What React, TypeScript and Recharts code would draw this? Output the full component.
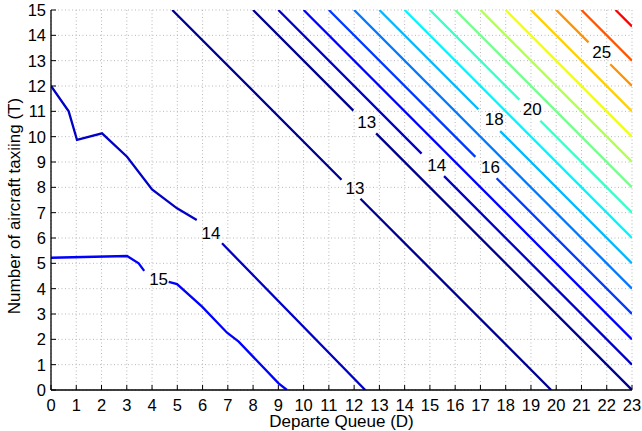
import React from "react";
import { ComposedChart, Line, XAxis, YAxis, CartesianGrid, ReferenceDot } from "recharts";

type Pt = { x: number; y: number | null };

const xTicks = [0, 1, 2, 3, 4, 5, 6, 7, 8, 9, 10, 11, 12, 13, 14, 15, 16, 17, 18, 19, 20, 21, 22, 23];
const yTicks = [0, 1, 2, 3, 4, 5, 6, 7, 8, 9, 10, 11, 12, 13, 14, 15];

// contour lines, a null y leaves the gap where the inline label sits
const curve14Left: Pt[] = [
  { x: 0, y: 12 }, { x: 0.7, y: 11 }, { x: 1.03, y: 9.87 }, { x: 2.02, y: 10.13 },
  { x: 3.01, y: 9.21 }, { x: 4, y: 7.92 }, { x: 4.99, y: 7.17 }, { x: 5.77, y: 6.71 },
  { x: 6.27, y: null }, { x: 6.77, y: 5.79 }, { x: 12.44, y: 0 },
];
const curve15Left: Pt[] = [
  { x: 0, y: 5.22 }, { x: 3.01, y: 5.29 }, { x: 3.47, y: 5.0 }, { x: 3.69, y: 4.7 },
  { x: 4.2, y: null }, { x: 4.66, y: 4.27 }, { x: 4.99, y: 4.18 }, { x: 5.98, y: 3.29 },
  { x: 6.97, y: 2.26 }, { x: 7.43, y: 1.91 }, { x: 9.01, y: 0.26 }, { x: 9.34, y: 0 },
];
const line13a: Pt[] = [{ x: 4.8, y: 15 }, { x: 11.5, y: 8.3 }, { x: 11.9, y: null }, { x: 12.25, y: 7.55 }, { x: 19.8, y: 0 }];
const line13b: Pt[] = [{ x: 8, y: 15 }, { x: 11.97, y: 11.03 }, { x: 12.4, y: null }, { x: 12.87, y: 10.13 }, { x: 23, y: 0 }];
const line14: Pt[] = [{ x: 9, y: 15 }, { x: 14.67, y: 9.33 }, { x: 15.1, y: null }, { x: 15.56, y: 8.44 }, { x: 23, y: 1 }];
const line15: Pt[] = [{ x: 10, y: 15 }, { x: 23, y: 2 }];
const line16: Pt[] = [{ x: 11, y: 15 }, { x: 16.8, y: 9.2 }, { x: 17.2, y: null }, { x: 17.64, y: 8.36 }, { x: 23, y: 3 }];
const line17: Pt[] = [{ x: 12, y: 15 }, { x: 23, y: 4 }];
const line18: Pt[] = [{ x: 13, y: 15 }, { x: 16.92, y: 11.08 }, { x: 17.3, y: null }, { x: 17.78, y: 10.22 }, { x: 23, y: 5 }];
const line19: Pt[] = [{ x: 14, y: 15 }, { x: 23, y: 6 }];
const line20: Pt[] = [{ x: 15, y: 15 }, { x: 18.54, y: 11.46 }, { x: 19, y: null }, { x: 19.37, y: 10.63 }, { x: 23, y: 7 }];
const line21: Pt[] = [{ x: 16, y: 15 }, { x: 23, y: 8 }];
const line22: Pt[] = [{ x: 17, y: 15 }, { x: 23, y: 9 }];
const line23: Pt[] = [{ x: 18, y: 15 }, { x: 23, y: 10 }];
const line24: Pt[] = [{ x: 19, y: 15 }, { x: 23, y: 11 }];
const line25: Pt[] = [{ x: 20, y: 15 }, { x: 21.28, y: 13.72 }, { x: 21.7, y: null }, { x: 22.14, y: 12.86 }, { x: 23, y: 12 }];
const line26: Pt[] = [{ x: 21, y: 15 }, { x: 23, y: 13 }];
const line27: Pt[] = [{ x: 22.35, y: 15 }, { x: 23, y: 14.35 }];

const contourLabels = [
  { x: 6.33, y: 6.2, text: "14" },
  { x: 4.26, y: 4.38, text: "15" },
  { x: 12.03, y: 7.96, text: "13" },
  { x: 12.5, y: 10.6, text: "13" },
  { x: 15.27, y: 8.9, text: "14" },
  { x: 17.4, y: 8.8, text: "16" },
  { x: 17.55, y: 10.7, text: "18" },
  { x: 19.05, y: 11.1, text: "20" },
  { x: 21.8, y: 13.35, text: "25" },
];

// jet colours per level
const contours = [
  { id: "l14", data: curve14Left, color: "#0000C6" },
  { id: "l15", data: curve15Left, color: "#0000FD" },
  { id: "d13a", data: line13a, color: "#00008F" },
  { id: "d13b", data: line13b, color: "#00008F" },
  { id: "d14", data: line14, color: "#0000C6" },
  { id: "d15", data: line15, color: "#0000FD" },
  { id: "d16", data: line16, color: "#003BFF" },
  { id: "d17", data: line17, color: "#0079FF" },
  { id: "d18", data: line18, color: "#00B8FF" },
  { id: "d19", data: line19, color: "#00F6FF" },
  { id: "d20", data: line20, color: "#35FFCA" },
  { id: "d21", data: line21, color: "#73FF8C" },
  { id: "d22", data: line22, color: "#B1FF4E" },
  { id: "d23", data: line23, color: "#F0FF0F" },
  { id: "d24", data: line24, color: "#FFD000" },
  { id: "d25", data: line25, color: "#FF9200" },
  { id: "d26", data: line26, color: "#FF5400" },
  { id: "d27", data: line27, color: "#FF0000" },
];

const FONT = '"Liberation Sans", Arial, Helvetica, sans-serif';
const boxLine = { stroke: "#000", strokeWidth: 1.3 };

function YTitle({ viewBox }: { viewBox?: { x: number; y: number; width: number; height: number } }) {
  if (!viewBox) return null;
  const cx = viewBox.x + 14;
  const cy = viewBox.y + viewBox.height / 2 + 6;
  return (
    <text
      x={cx}
      y={cy}
      transform={`rotate(-90 ${cx} ${cy})`}
      textAnchor="middle"
      dominantBaseline="central"
      fontSize={17}
      fill="#000"
    >
      Number of aircraft taxiing (T)
    </text>
  );
}

export default function App() {
  return (
    <div style={{ width: 642, height: 431, fontFamily: FONT }}>
      <style>{"body{margin:0}"}</style>
      <ComposedChart width={642} height={431} margin={{ top: 10, right: 10, bottom: 0, left: 0 }}>
        <CartesianGrid stroke="#b0b0b0" strokeDasharray="1 2.5" strokeWidth={0.9} />
        <XAxis
          dataKey="x"
          type="number"
          domain={[0, 23]}
          ticks={xTicks}
          interval={0}
          allowDataOverflow
          height={41}
          tickSize={-5}
          tickMargin={14}
          axisLine={boxLine}
          tickLine={{ stroke: "#000" }}
          tick={{ fontSize: 16.5, fill: "#000" }}
          label={{ value: "Departe Queue (D)", position: "insideBottom", offset: 4, fontSize: 17, fill: "#000" }}
        />
        <YAxis
          dataKey="y"
          type="number"
          domain={[0, 15]}
          ticks={yTicks}
          interval={0}
          allowDataOverflow
          width={51}
          tickSize={-5}
          tickMargin={10}
          axisLine={boxLine}
          tickLine={{ stroke: "#000" }}
          tick={{ fontSize: 16.5, fill: "#000" }}
          label={<YTitle />}
        />
        <XAxis
          xAxisId="top"
          orientation="top"
          type="number"
          domain={[0, 23]}
          ticks={xTicks}
          interval={0}
          allowDataOverflow
          height={0}
          tickSize={-5}
          tick={false}
          axisLine={boxLine}
          tickLine={{ stroke: "#000" }}
        />
        <YAxis
          yAxisId="right"
          orientation="right"
          type="number"
          domain={[0, 15]}
          ticks={yTicks}
          interval={0}
          allowDataOverflow
          width={0}
          tickSize={-5}
          tick={false}
          axisLine={boxLine}
          tickLine={{ stroke: "#000" }}
        />
        {contours.map((c) => (
          <Line
            key={c.id}
            data={c.data}
            dataKey="y"
            type="linear"
            stroke={c.color}
            strokeWidth={2.3}
            dot={false}
            activeDot={false}
            connectNulls={false}
            isAnimationActive={false}
          />
        ))}
        {contourLabels.map((l, i) => (
          <ReferenceDot
            key={`lab-${i}`}
            x={l.x}
            y={l.y}
            r={0}
            fill="none"
            stroke="none"
            label={{ value: l.text, position: "center", fontSize: 17, fill: "#000" }}
          />
        ))}
      </ComposedChart>
    </div>
  );
}
